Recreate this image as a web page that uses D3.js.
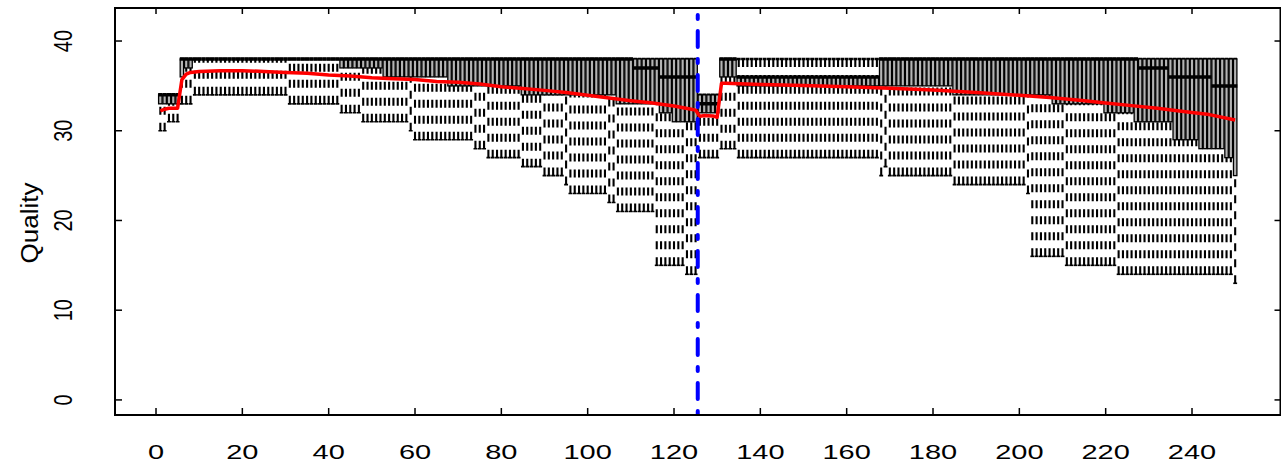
<!DOCTYPE html>
<meta charset="utf-8">
<script src="https://d3js.org/d3.v7.min.js"></script>
<body style="margin:0; background:#fff;">
<div id="chart"></div>
<script>

// cycle positions (read 1 = 1..125, read 2 = 126..250)
const positions = d3.range(1, 251);
const xTicks = [0, 20, 40, 60, 80, 100, 120, 140, 160, 180, 200, 220, 240];
const yTicks = [0, 10, 20, 30, 40];
const readSplit = 125.5;

// box statistics as runs [from, to, value]
const lowWhiskerRuns = [
  [1, 2, 30], [3, 5, 31], [6, 8, 33], [9, 30, 34], [31, 42, 33], [43, 47, 32],
  [48, 58, 31], [59, 59, 30], [60, 73, 29], [74, 76, 28], [77, 84, 27], [85, 89, 26],
  [90, 94, 25], [95, 95, 24], [96, 104, 23], [105, 106, 22], [107, 115, 21],
  [116, 122, 15], [123, 125, 14],
  [126, 130, 27], [131, 134, 28], [135, 167, 27], [168, 168, 25], [169, 169, 26],
  [170, 184, 25], [185, 201, 24], [202, 202, 23], [203, 210, 16], [211, 222, 15],
  [223, 249, 14], [250, 250, 13]
];
const q1Runs = [
  [1, 5, 33], [6, 6, 36], [7, 8, 37], [9, 42, 38], [43, 52, 37], [53, 67, 36],
  [68, 84, 35], [85, 106, 34], [107, 116, 33], [117, 119, 32], [120, 125, 31],
  [126, 130, 32], [131, 134, 36], [135, 184, 35], [185, 207, 34], [208, 219, 33],
  [220, 226, 32], [227, 235, 31], [236, 241, 29], [242, 247, 28], [248, 249, 27],
  [250, 250, 25]
];
const medianRuns = [
  [1, 5, 34], [6, 110, 38], [111, 116, 37], [117, 125, 36],
  [126, 130, 33], [131, 134, 38], [135, 167, 36], [168, 227, 38], [228, 234, 37],
  [235, 244, 36], [245, 250, 35]
];
const q3Runs = [
  [1, 5, 34], [6, 125, 38], [126, 130, 34], [131, 134, 38], [135, 167, 36], [168, 250, 38]
];
const highWhiskerRuns = [
  [1, 5, 34], [6, 125, 38], [126, 130, 34], [131, 250, 38]
];

// mean quality (red line)
const meanPos = [1, 2, 3, 5, 6, 7, 8, 10, 15, 20, 25, 30, 35, 40, 45, 50, 55, 60, 65, 70,
  75, 80, 85, 90, 95, 100, 105, 110, 115, 120, 124, 125, 126, 127, 129, 130, 131, 132,
  140, 150, 160, 170, 180, 190, 200, 207, 214, 220, 226, 232, 238, 244, 250];
const meanVal = [32.2, 32.4, 32.5, 32.5, 35.7, 36.3, 36.5, 36.6, 36.7, 36.7, 36.6, 36.5,
  36.4, 36.2, 36.1, 35.9, 35.8, 35.7, 35.5, 35.4, 35.2, 34.9, 34.7, 34.5, 34.25, 33.95,
  33.65, 33.35, 33.1, 32.75, 32.4, 32.3, 31.6, 31.7, 31.65, 31.5, 35.3, 35.3, 35.15,
  35.05, 34.9, 34.75, 34.55, 34.25, 33.95, 33.7, 33.4, 33.1, 32.8, 32.5, 32.15, 31.8, 31.2];

function expand(runs) {
  const byPos = {};
  runs.forEach(function(r) { for (let p = r[0]; p <= r[1]; p++) byPos[p] = r[2]; });
  return positions.map(function(p) { return byPos[p]; });
}

const wl = expand(lowWhiskerRuns), q1 = expand(q1Runs), med = expand(medianRuns),
      q3 = expand(q3Runs), wh = expand(highWhiskerRuns);
const boxes = positions.map(function(p, i) {
  return {pos: p, wl: wl[i], q1: q1[i], med: med[i], q3: q3[i], wh: wh[i]};
});

const W = 1281, H = 463;
const plot = {left: 115, right: 1280.5, top: 8, bottom: 415};

const svg = d3.select("#chart").append("svg")
  .attr("width", W).attr("height", H)
  .style("font-family", "'Liberation Sans', Arial, sans-serif");

const x = d3.scaleLinear().domain([-9.5, 260.5]).range([plot.left, plot.right]);
const y = d3.scaleLinear().domain([-1.68, 43.68]).range([plot.bottom, plot.top]);
const bw = x(0.4) - x(0);   // half box width
const unit = x(1) - x(0);

svg.append("defs").append("clipPath").attr("id", "plotclip")
  .append("rect")
    .attr("x", plot.left).attr("y", plot.top)
    .attr("width", plot.right - plot.left).attr("height", plot.bottom - plot.top);

const g = svg.append("g").attr("clip-path", "url(#plotclip)");

const bx = g.selectAll("g.box").data(boxes).enter().append("g").attr("class", "box");

// whiskers (dashed, drawn from whisker end towards the box)
bx.filter(function(d) { return d.wl < d.q1; }).append("line")
  .attr("x1", function(d) { return x(d.pos); }).attr("x2", function(d) { return x(d.pos); })
  .attr("y1", function(d) { return y(d.wl); }).attr("y2", function(d) { return y(d.q1); })
  .attr("stroke", "#000").attr("stroke-width", 2.1).attr("stroke-dasharray", "8,8");
bx.filter(function(d) { return d.wh > d.q3; }).append("line")
  .attr("x1", function(d) { return x(d.pos); }).attr("x2", function(d) { return x(d.pos); })
  .attr("y1", function(d) { return y(d.wh); }).attr("y2", function(d) { return y(d.q3); })
  .attr("stroke", "#000").attr("stroke-width", 2.1).attr("stroke-dasharray", "8,8");

// staples
["wl", "wh"].forEach(function(k) {
  bx.append("line")
    .attr("x1", function(d) { return x(d.pos) - unit * 0.45; })
    .attr("x2", function(d) { return x(d.pos) + unit * 0.45; })
    .attr("y1", function(d) { return y(d[k]); }).attr("y2", function(d) { return y(d[k]); })
    .attr("stroke", "#000").attr("stroke-width", k === "wh" ? 2.5 : 1.6);
});

// boxes
bx.append("rect")
  .attr("x", function(d) { return x(d.pos) - bw; })
  .attr("width", 2 * bw)
  .attr("y", function(d) { return y(d.q3); })
  .attr("height", function(d) { return y(d.q1) - y(d.q3); })
  .attr("fill", "#b4b4b4").attr("stroke", "#000").attr("stroke-width", 1.3);

// medians
bx.append("line")
  .attr("x1", function(d) { return x(d.pos) - unit * 0.5; })
  .attr("x2", function(d) { return x(d.pos) + unit * 0.5; })
  .attr("y1", function(d) { return y(d.med); }).attr("y2", function(d) { return y(d.med); })
  .attr("stroke", "#000").attr("stroke-width", 3.5);

// mean line
g.append("path")
  .datum(meanPos.map(function(p, i) { return [p, meanVal[i]]; }))
  .attr("d", d3.line().x(function(d) { return x(d[0]); }).y(function(d) { return y(d[1]); }))
  .attr("fill", "none").attr("stroke", "#ff0000").attr("stroke-width", 3.5)
  .attr("stroke-linejoin", "round");

// read boundary
g.append("line")
  .attr("x1", x(readSplit)).attr("x2", x(readSplit))
  .attr("y1", plot.bottom).attr("y2", plot.top)
  .attr("stroke", "#0000ff").attr("stroke-width", 4)
  .attr("stroke-linecap", "round").attr("stroke-dasharray", "4,12,16,12");

// frame
svg.append("rect")
  .attr("x", plot.left).attr("y", plot.top)
  .attr("width", plot.right - plot.left).attr("height", plot.bottom - plot.top)
  .attr("fill", "none").attr("stroke", "#000").attr("stroke-width", 2);

// ticks (inward, all four sides)
const tk = 7;
xTicks.forEach(function(t) {
  svg.append("line").attr("x1", x(t)).attr("x2", x(t))
    .attr("y1", plot.bottom).attr("y2", plot.bottom - tk)
    .attr("stroke", "#000").attr("stroke-width", 1.5);
  svg.append("line").attr("x1", x(t)).attr("x2", x(t))
    .attr("y1", plot.top).attr("y2", plot.top + tk - 1)
    .attr("stroke", "#000").attr("stroke-width", 1.5);
  svg.append("text")
    .attr("transform", "translate(" + x(t) + ",459) scale(1.38,1)")
    .attr("text-anchor", "middle").attr("font-size", 21)
    .text(t);
});
yTicks.forEach(function(t) {
  svg.append("line").attr("x1", plot.left).attr("x2", plot.left + tk)
    .attr("y1", y(t)).attr("y2", y(t))
    .attr("stroke", "#000").attr("stroke-width", 1.5);
  svg.append("line").attr("x1", plot.right).attr("x2", plot.right - tk + 1)
    .attr("y1", y(t)).attr("y2", y(t))
    .attr("stroke", "#000").attr("stroke-width", 1.5);
  svg.append("text")
    .attr("transform", "translate(72," + y(t) + ") scale(1.33,1) rotate(-90)")
    .attr("text-anchor", "middle").attr("font-size", 20)
    .text(t);
});

// y axis title
svg.append("text")
  .attr("transform", "translate(38,223) scale(0.92,1) rotate(-90)")
  .attr("text-anchor", "middle").attr("font-size", 26)
  .text("Quality");

</script>
</body>
